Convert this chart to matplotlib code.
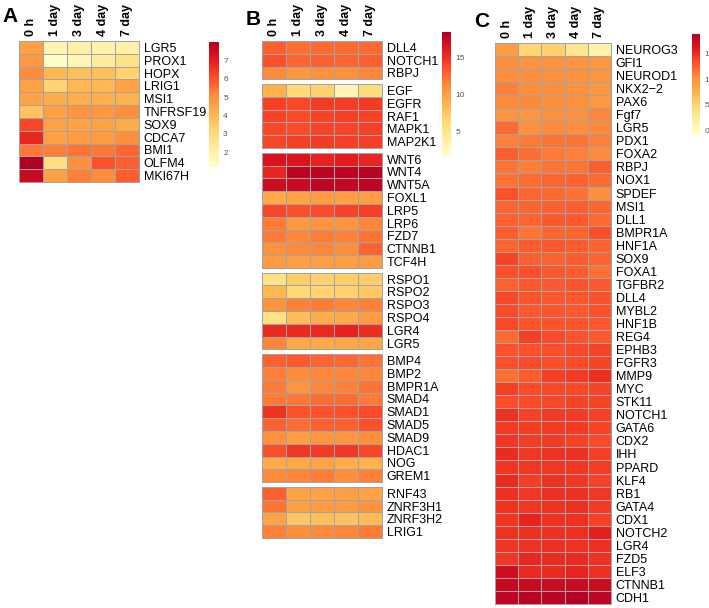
import numpy as np
import matplotlib
matplotlib.use('Agg')
import matplotlib.pyplot as plt
from matplotlib.colors import LinearSegmentedColormap
from matplotlib.cm import ScalarMappable
from matplotlib.colors import Normalize

plt.rcParams['font.family'] = ['Liberation Sans', 'DejaVu Sans']

# time points (columns)
times = ['0 h', '1 day', '3 day', '4 day', '7 day']

# panel A
genes_a = ['LGR5', 'PROX1', 'HOPX', 'LRIG1', 'MSI1', 'TNFRSF19', 'SOX9', 'CDCA7',
           'BMI1', 'OLFM4', 'MKI67H']
values_a = [
    [4.6, 1.8, 2.0, 1.9, 2.0],
    [4.8, 1.3, 1.7, 2.2, 2.8],
    [5.1, 4.0, 3.8, 3.8, 3.3],
    [4.6, 3.3, 4.0, 4.0, 4.5],
    [4.5, 4.3, 4.2, 4.2, 4.1],
    [3.7, 4.6, 4.9, 4.8, 5.0],
    [6.2, 4.6, 4.5, 4.6, 4.3],
    [6.8, 4.6, 4.7, 4.7, 5.0],
    [5.4, 5.3, 5.5, 5.4, 5.7],
    [8.0, 2.9, 5.0, 6.0, 5.8],
    [7.6, 4.6, 5.3, 5.1, 5.8],
]
ticks_a = [2, 3, 4, 5, 6, 7]

# panel B (grouped rows)
genes_b = ['DLL4', 'NOTCH1', 'RBPJ',
           'EGF', 'EGFR', 'RAF1', 'MAPK1', 'MAP2K1',
           'WNT6', 'WNT4', 'WNT5A', 'FOXL1', 'LRP5', 'LRP6', 'FZD7', 'CTNNB1', 'TCF4H',
           'RSPO1', 'RSPO2', 'RSPO3', 'RSPO4', 'LGR4', 'LGR5',
           'BMP4', 'BMP2', 'BMPR1A', 'SMAD4', 'SMAD1', 'SMAD5', 'SMAD9', 'HDAC1', 'NOG', 'GREM1',
           'RNF43', 'ZNRF3H1', 'ZNRF3H2', 'LRIG1']
groups_b = [3, 5, 9, 6, 10, 4]
values_b = [
    [13.0, 12.4, 12.6, 12.6, 12.6],
    [13.6, 12.8, 13.0, 12.8, 13.1],
    [11.4, 10.6, 11.0, 11.0, 11.6],
    [8.9, 6.3, 7.0, 3.0, 6.0],
    [14.3, 14.1, 14.5, 14.5, 14.6],
    [14.2, 13.9, 14.2, 14.3, 14.2],
    [14.0, 13.8, 14.2, 14.2, 14.3],
    [14.1, 14.3, 14.5, 14.3, 14.4],
    [16.7, 16.5, 15.8, 16.0, 15.6],
    [15.6, 18.0, 18.0, 18.0, 18.2],
    [17.3, 17.5, 17.9, 17.7, 17.9],
    [9.4, 9.8, 10.3, 10.1, 10.1],
    [14.1, 13.7, 13.9, 14.2, 14.3],
    [12.0, 10.5, 10.8, 10.8, 11.6],
    [12.0, 11.5, 11.9, 11.8, 12.3],
    [11.0, 11.4, 11.5, 11.2, 12.9],
    [10.4, 10.1, 10.2, 10.2, 10.4],
    [5.5, 7.2, 7.0, 7.1, 7.3],
    [8.6, 6.5, 6.8, 6.9, 7.5],
    [10.8, 11.7, 11.9, 11.6, 11.8],
    [5.7, 8.2, 9.2, 9.4, 10.3],
    [15.3, 15.4, 15.4, 15.7, 15.2],
    [11.6, 9.5, 9.4, 9.6, 9.7],
    [13.0, 13.3, 12.8, 12.7, 12.3],
    [11.8, 11.3, 11.5, 11.6, 11.6],
    [12.0, 10.8, 11.6, 11.8, 12.2],
    [12.0, 12.1, 12.5, 12.5, 12.0],
    [15.0, 13.6, 13.5, 13.6, 13.9],
    [13.0, 12.5, 13.0, 13.0, 13.6],
    [10.9, 10.1, 10.7, 10.7, 11.1],
    [13.7, 14.8, 14.5, 14.8, 14.1],
    [9.3, 9.5, 9.9, 9.2, 8.9],
    [11.4, 11.6, 11.9, 11.2, 11.7],
    [13.0, 9.8, 9.9, 10.1, 9.8],
    [12.3, 10.1, 10.3, 10.4, 10.9],
    [9.9, 7.8, 8.1, 7.9, 8.4],
    [11.8, 11.2, 11.4, 11.6, 12.0],
]
ticks_b = [5, 10, 15]

# panel C
genes_c = ['NEUROG3', 'GFI1', 'NEUROD1', 'NKX2\u22122', 'PAX6', 'Fgf7', 'LGR5', 'PDX1',
           'FOXA2', 'RBPJ', 'NOX1', 'SPDEF', 'MSI1', 'DLL1', 'BMPR1A', 'HNF1A', 'SOX9',
           'FOXA1', 'TGFBR2', 'DLL4', 'MYBL2', 'HNF1B', 'REG4', 'EPHB3', 'FGFR3', 'MMP9',
           'MYC', 'STK11', 'NOTCH1', 'GATA6', 'CDX2', 'IHH', 'PPARD', 'KLF4', 'RB1',
           'GATA4', 'CDX1', 'NOTCH2', 'LGR4', 'FZD5', 'ELF3', 'CTNNB1', 'CDH1']
values_c = [
    [9.2, 5.0, 5.3, 3.0, 1.2],
    [10.1, 9.9, 9.9, 9.8, 9.6],
    [10.3, 10.2, 10.0, 9.9, 9.7],
    [11.0, 10.3, 10.1, 10.0, 9.6],
    [10.4, 10.5, 10.1, 10.0, 9.6],
    [9.8, 9.7, 10.0, 10.0, 10.7],
    [11.8, 10.0, 10.4, 10.3, 10.4],
    [10.9, 11.2, 11.5, 11.5, 11.0],
    [12.4, 11.7, 11.2, 11.0, 10.4],
    [11.4, 11.0, 11.5, 11.4, 12.5],
    [11.5, 11.8, 12.1, 12.3, 11.8],
    [13.0, 12.1, 11.9, 11.6, 10.2],
    [12.0, 12.1, 12.3, 12.4, 12.1],
    [12.3, 12.1, 12.6, 12.6, 11.9],
    [12.5, 11.4, 12.0, 12.1, 13.1],
    [12.0, 12.5, 12.7, 12.5, 12.2],
    [13.6, 12.4, 12.3, 12.5, 12.2],
    [13.0, 13.1, 12.6, 12.5, 11.6],
    [12.3, 12.6, 12.6, 12.8, 12.6],
    [13.4, 12.8, 12.7, 12.7, 12.9],
    [13.3, 12.7, 12.8, 12.7, 13.0],
    [13.4, 12.8, 12.9, 12.8, 12.7],
    [11.8, 13.9, 13.3, 12.9, 12.6],
    [12.9, 13.0, 13.1, 13.4, 13.7],
    [13.0, 13.3, 13.1, 13.3, 13.6],
    [11.6, 12.5, 13.9, 14.1, 14.8],
    [13.9, 13.3, 13.4, 13.4, 13.7],
    [13.2, 13.3, 13.4, 13.6, 13.6],
    [14.6, 13.8, 14.1, 14.1, 13.9],
    [14.2, 14.0, 14.1, 14.2, 13.6],
    [14.3, 14.0, 14.1, 13.8, 13.3],
    [15.0, 14.3, 14.6, 14.7, 13.9],
    [14.5, 14.4, 14.4, 14.4, 14.0],
    [15.1, 14.0, 14.6, 14.4, 13.8],
    [14.7, 14.3, 14.7, 14.7, 14.4],
    [14.6, 14.4, 14.6, 14.8, 14.2],
    [14.5, 15.4, 14.6, 14.7, 13.8],
    [14.6, 14.7, 14.7, 14.8, 15.6],
    [14.5, 14.6, 14.8, 14.6, 14.7],
    [14.4, 15.2, 15.0, 15.1, 14.6],
    [17.2, 15.1, 15.1, 15.4, 14.7],
    [17.6, 17.5, 17.4, 17.5, 17.3],
    [18.0, 18.2, 18.2, 18.5, 18.0],
]
ticks_c = [0, 5, 10, 15]

# YlOrRd (8 classes)
cmap = LinearSegmentedColormap.from_list('ylorrd8', ['#ffffcc', '#ffeda0', '#fed976', '#feb24c',
                                                     '#fd8d3c', '#fc4e2a', '#e31a1c', '#b10026'])

W, H = 709, 608
fig = plt.figure(figsize=(W / 100, H / 100), dpi=100)


def px_axes(x, y, w, h):
    return fig.add_axes([x / W, 1 - (y + h) / H, w / W, h / H])


def heat(ax, genes, vals, vmin, vmax, groups=None, gap=0.0):
    vals = np.array(vals)
    if groups is None:
        groups = [len(genes)]
    start, y0, centers = 0, 0.0, []
    for g in groups:
        ys = y0 + np.arange(g + 1)
        m = ax.pcolormesh(np.arange(len(times) + 1), ys, vals[start:start + g], cmap=cmap,
                          vmin=vmin, vmax=vmax, edgecolors='#a3a3a3', linewidth=0.7)
        m.set_clip_on(False)
        centers += list(y0 + np.arange(g) + 0.5)
        start += g
        y0 += g + gap
    ax.set_xlim(0, len(times))
    ax.set_ylim(y0 - gap, 0)
    for s in ax.spines.values():
        s.set_visible(False)
    ax.xaxis.tick_top()
    ax.set_xticks(np.arange(len(times)) + 0.5)
    ax.set_xticklabels(times, rotation=90, fontsize=9, fontweight='bold')
    ax.yaxis.tick_right()
    ax.set_yticks(centers)
    ax.set_yticklabels(genes, fontsize=9)
    ax.tick_params(length=0, pad=3.5)


def cbar(x, y, w, h, vmin, vmax, ticks):
    cax = px_axes(x, y, w, h)
    cb = fig.colorbar(ScalarMappable(Normalize(vmin, vmax), cmap), cax=cax)
    cb.outline.set_visible(False)
    cb.set_ticks(ticks)
    cax.tick_params(length=0, labelsize=6, labelcolor='#555555', pad=3)


# A
ax = px_axes(19, 41, 120, 141)
heat(ax, genes_a, values_a, 1.2, 8.0)
cbar(209, 42, 10, 125, 1.2, 8.0, ticks_a)
fig.text(2 / W, 1 - 22 / H, 'A', fontsize=15, fontweight='bold')

# B
ax = px_axes(262, 41, 120, 497)
heat(ax, genes_b, values_b, 1.7, 18.5, groups=groups_b, gap=0.37)
cbar(442, 32, 9, 124, 1.7, 18.5, ticks_b)
fig.text(246 / W, 1 - 25 / H, 'B', fontsize=15, fontweight='bold')

# C
ax = px_axes(495, 43, 116, 561)
heat(ax, genes_c, values_c, -0.8, 18.7)
cbar(692, 34, 8, 101, -0.8, 18.7, ticks_c)
fig.text(474 / W, 1 - 27 / H, 'C', fontsize=15, fontweight='bold')

fig.savefig('out.png', dpi=100)
